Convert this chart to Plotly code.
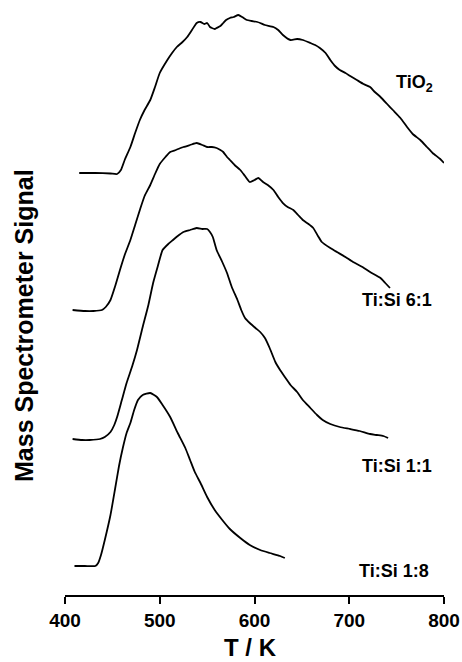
import plotly.graph_objects as go

# ---- data (T in K, signal in arbitrary units incl. stacking offset) ----
T_tio2 = [415, 432, 448, 455, 459, 463, 469, 474, 479, 484, 490, 495, 500, 508, 513, 518, 524, 529,
          534, 539, 543, 547, 550, 553, 555, 558, 560, 564, 567, 570, 574, 578, 583, 587, 592, 597,
          603, 606, 611, 620, 625, 630, 638, 645, 651, 659, 664, 669, 675, 680, 685, 690, 696, 701,
          708, 715, 722, 727, 733, 740, 746, 754, 761, 767, 775, 782, 788, 796, 800]
S_tio2 = [84.4, 84.4, 84.3, 84.2, 85, 87, 89.6, 92.4, 95, 97, 99, 101.6, 104.4, 107, 108.4, 109.6,
          110.6, 111.6, 113, 114.4, 114.6, 114.2, 114.4, 113.6, 113.4, 113.2, 113.4, 113.8, 114.4,
          115, 115.4, 115.6, 116, 115.6, 115, 114.8, 114.6, 114.4, 114, 113.6, 113, 112, 111, 111.2,
          111, 110.4, 110, 109.4, 108.4, 107, 105.8, 105, 104.4, 103.8, 103, 102.2, 101.6, 100.6,
          99.6, 98.2, 97, 95.4, 93.6, 92.2, 91, 89.6, 88.4, 87.2, 86.4]

T_61 = [408, 421, 430, 439, 443, 448, 453, 458, 463, 469, 474, 479, 484, 490, 495, 500, 506, 511,
        517, 525, 532, 539, 545, 550, 555, 560, 564, 567, 571, 574, 579, 585, 590, 595, 600, 604,
        609, 614, 620, 625, 630, 635, 641, 646, 651, 657, 662, 667, 671, 680, 687, 696, 704, 714,
        722, 733, 738, 743]
S_61 = [57, 56.8, 56.8, 57, 57.6, 59, 61.8, 65, 68, 71, 74, 77, 79.8, 82, 84.2, 86.2, 87.6, 88.6,
        89, 89.6, 90, 90.4, 90, 89.6, 89.6, 89.4, 89, 88.6, 87.6, 87, 86, 85, 83.8, 82.6, 83, 83.4,
        82.6, 82, 81, 79.6, 78.4, 77.6, 77, 76, 75, 74.2, 73.4, 71.8, 70.6, 69.4, 68.6, 67.6, 66.6,
        65.6, 64.6, 63.4, 62.4, 61.4]

T_11 = [408, 418, 426, 437, 442, 448, 452, 455, 460, 465, 471, 476, 482, 488, 493, 498, 503, 509,
        514, 519, 525, 532, 539, 545, 550, 553, 556, 560, 566, 571, 576, 582, 586, 590, 595, 601,
        606, 611, 616, 622, 627, 632, 638, 645, 651, 659, 666, 672, 680, 690, 701, 711, 722, 729,
        736, 741]
S_11 = [31.2, 31, 31, 31.2, 31.6, 32.6, 34, 35.6, 39, 42.4, 45.8, 49, 53.6, 58, 62.4, 65.8, 69, 70.2,
        71, 71.8, 72.6, 73, 73.4, 73.2, 73.2, 72.6, 71.6, 69, 66.6, 64.4, 61.6, 59, 57, 55.4, 54.4,
        53.4, 52.6, 51.4, 49.4, 46.6, 45, 43.6, 42, 40.6, 39, 37.4, 36, 35, 34.2, 33.6, 33.2, 32.8,
        32.2, 32, 31.8, 31.4]

T_18 = [410, 421, 432, 435, 438, 442, 448, 453, 457, 461, 465, 469, 473, 477, 482, 490, 497, 503,
        511, 519, 527, 532, 537, 543, 550, 558, 566, 574, 585, 595, 606, 616, 627, 632]
S_18 = [5.8, 5.8, 5.8, 6.4, 8, 11, 16, 21.4, 25.8, 29.4, 32.4, 34.4, 37, 39, 40, 40.4, 39.6, 38,
        35.6, 32.4, 29.4, 27, 24.6, 22.4, 19.6, 17, 15, 13.2, 11.4, 10, 9, 8.4, 7.8, 7.4]

x_ticks = [400, 500, 600, 700, 800]
tick_labels = ["400", "500", "600", "700", "800"]
labels = ["TiO<sub>2</sub>", "Ti:Si 6:1", "Ti:Si 1:1", "Ti:Si 1:8"]
label_T = [769, 750, 750, 747]
label_S = [102.4, 59, 25.8, 4.8]

FONT = "Liberation Sans, Arial, sans-serif"

fig = go.Figure()
for T, S in [(T_tio2, S_tio2), (T_61, S_61), (T_11, S_11), (T_18, S_18)]:
    fig.add_trace(go.Scatter(x=T, y=S, mode="lines",
                             line=dict(color="black", width=1.8, shape="spline", smoothing=0.5),
                             showlegend=False, hoverinfo="skip"))

for txt, tx, sy in zip(labels, label_T, label_S):
    fig.add_annotation(x=tx, y=sy, xref="x", yref="y", text="<b>" + txt + "</b>",
                       showarrow=False, xanchor="center", yanchor="middle",
                       font=dict(family=FONT, size=18, color="black"))

fig.add_annotation(xref="paper", yref="paper", x=(250 - 65) / 379, y=(595 - 647) / 595,
                   text="<b>T / K</b>", showarrow=False, xanchor="center", yanchor="middle",
                   font=dict(family=FONT, size=24, color="black"))
fig.add_annotation(xref="paper", yref="paper", x=(24 - 65) / 379, y=(595 - 326) / 595,
                   text="<b>Mass Spectrometer Signal</b>", showarrow=False, textangle=-90,
                   xanchor="center", yanchor="middle",
                   font=dict(family=FONT, size=25, color="black"))

fig.update_layout(
    width=462, height=662,
    margin=dict(l=65, r=18, t=0, b=67),
    paper_bgcolor="white", plot_bgcolor="white",
    xaxis=dict(range=[400, 800], tickvals=x_ticks,
               ticktext=["<b>" + t + "</b>" for t in tick_labels],
               showgrid=False, zeroline=False, showline=True, linecolor="black", linewidth=2,
               ticks="outside", ticklen=7, tickwidth=2, tickcolor="black",
               tickfont=dict(family=FONT, size=19, color="black")),
    yaxis=dict(range=[0, 119], visible=False),
)

fig.write_html("out.html")
